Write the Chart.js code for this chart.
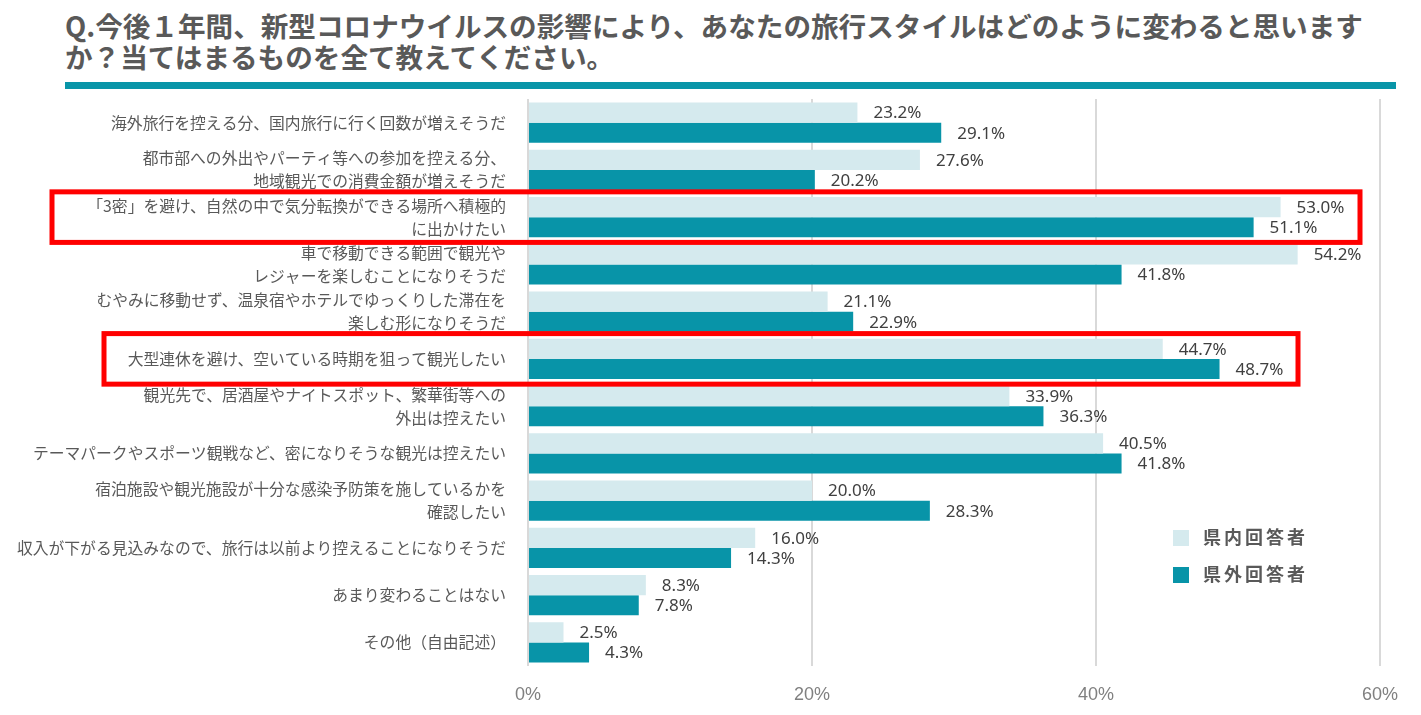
<!DOCTYPE html>
<html lang="ja">
<head>
<meta charset="utf-8">
<title>旅行スタイルの変化</title>
<script src="https://cdn.jsdelivr.net/npm/chart.js@4.4.1/dist/chart.umd.min.js"></script>
<style>
  html, body { margin: 0; padding: 0; background: #fff; }
  body { width: 1421px; height: 715px; position: relative; overflow: hidden; }
  #title {
    position: absolute; left: 65px; top: 10px;
    font-family: "Noto Sans CJK JP", sans-serif; font-weight: bold;
    font-size: 27.6px; line-height: 31px; color: #595959; white-space: nowrap;
  }
  #rule { position: absolute; left: 65px; top: 82px; width: 1331px; height: 7px; background: #0995a8; }
  #wrap { position: absolute; left: 0; top: 0; width: 1421px; height: 715px; }
  .legend {
    position: absolute; left: 1173px; font-family: "Noto Sans CJK JP", sans-serif;
    font-weight: bold; font-size: 18px; color: #595959; letter-spacing: 3px;
  }
  .legend span.sw { display: inline-block; width: 16px; height: 16px; vertical-align: -2px; margin-right: 14px; }
</style>
</head>
<body>
<div id="title">Q.今後１年間、新型コロナウイルスの影響により、あなたの旅行スタイルはどのように変わると思います<br>か？当てはまるものを全て教えてください。</div>
<div id="rule"></div>
<div id="wrap"><canvas id="chart"></canvas></div>
<div class="legend" style="top:523px"><span class="sw" style="background:#d5eaee"></span>県内回答者</div>
<div class="legend" style="top:560px"><span class="sw" style="background:#0894a8"></span>県外回答者</div>
<script>
const categories = [
    '海外旅行を控える分、国内旅行に行く回数が増えそうだ',
    ['都市部への外出やパーティ等への参加を控える分、', '地域観光での消費金額が増えそうだ'],
    ['「3密」を避け、自然の中で気分転換ができる場所へ積極的', 'に出かけたい'],
    ['車で移動できる範囲で観光や', 'レジャーを楽しむことになりそうだ'],
    ['むやみに移動せず、温泉宿やホテルでゆっくりした滞在を', '楽しむ形になりそうだ'],
    '大型連休を避け、空いている時期を狙って観光したい',
    ['観光先で、居酒屋やナイトスポット、繁華街等への', '外出は控えたい'],
    'テーマパークやスポーツ観戦など、密になりそうな観光は控えたい',
    ['宿泊施設や観光施設が十分な感染予防策を施しているかを', '確認したい'],
    '収入が下がる見込みなので、旅行は以前より控えることになりそうだ',
    'あまり変わることはない',
    'その他（自由記述）'
];
const insideValues = [23.2, 27.6, 53.0, 54.2, 21.1, 44.7, 33.9, 40.5, 20.0, 16.0, 8.3, 2.5];
const outsideValues = [29.1, 20.2, 51.1, 41.8, 22.9, 48.7, 36.3, 41.8, 28.3, 14.3, 7.8, 4.3];
const seriesNames = ['県内回答者', '県外回答者'];
const xTicks = [0, 20, 40, 60];
const highlighted = [2, 5];

const valueLabels = {
    id: 'valueLabels',
    afterDatasetsDraw(chart) {
        const ctx = chart.ctx;
        ctx.save();
        ctx.font = '17px "Noto Sans", sans-serif';
        ctx.fillStyle = '#404040';
        ctx.textAlign = 'left';
        ctx.textBaseline = 'middle';
        chart.data.datasets.forEach((ds, i) => {
            chart.getDatasetMeta(i).data.forEach((bar, j) => {
                ctx.fillText(ds.data[j].toFixed(1) + '%', bar.x + 16, bar.y + 1);
            });
        });
        ctx.restore();
    }
};

// red boxes around the two highlighted answers
const highlightBoxes = {
    id: 'highlightBoxes',
    afterDraw(chart) {
        const ctx = chart.ctx;
        const y = chart.scales.y;
        const step = (y.bottom - y.top) / categories.length;
        const lefts = { 2: 52, 5: 104 };
        const rights = { 2: 1360, 5: 1298 };
        ctx.save();
        ctx.strokeStyle = '#ff0000';
        ctx.lineWidth = 5;
        highlighted.forEach(idx => {
            const c = y.getPixelForValue(idx);
            const h = step * 1.07;
            ctx.strokeRect(lefts[idx], c - h / 2, rights[idx] - lefts[idx], h);
        });
        ctx.restore();
    }
};

new Chart(document.getElementById('chart'), {
    type: 'bar',
    data: {
        labels: categories,
        datasets: [
            { label: seriesNames[0], data: insideValues, backgroundColor: '#d5eaee' },
            { label: seriesNames[1], data: outsideValues, backgroundColor: '#0894a8' }
        ]
    },
    options: {
        indexAxis: 'y',
        responsive: true,
        maintainAspectRatio: false,
        animation: false,
        datasets: { bar: { categoryPercentage: 0.85, barPercentage: 1.0 } },
        layout: { padding: { top: 99, right: 41, bottom: 0, left: 0 } },
        plugins: { legend: { display: false }, tooltip: { enabled: false } },
        scales: {
            x: {
                min: 0, max: 60,
                afterBuildTicks: s => { s.ticks = xTicks.map(v => ({ value: v })); },
                afterFit: s => { s.height = 49; },
                grid: { color: '#d9d9d9', lineWidth: 2, drawTicks: false },
                border: { display: false },
                ticks: {
                    padding: 18,
                    color: '#808080',
                    font: { family: '"Liberation Sans Narrow", "Liberation Sans", sans-serif', size: 18 },
                    callback: v => v + '%'
                }
            },
            y: {
                afterFit: s => { s.width = 528; },
                grid: { display: false },
                border: { display: false },
                ticks: {
                    autoSkip: false,
                    padding: 14,
                    color: '#595959',
                    font: { family: '"Noto Sans CJK JP", sans-serif', size: 15.8, lineHeight: 1.45 }
                }
            }
        }
    },
    plugins: [valueLabels, highlightBoxes]
});
</script>
</body>
</html>
